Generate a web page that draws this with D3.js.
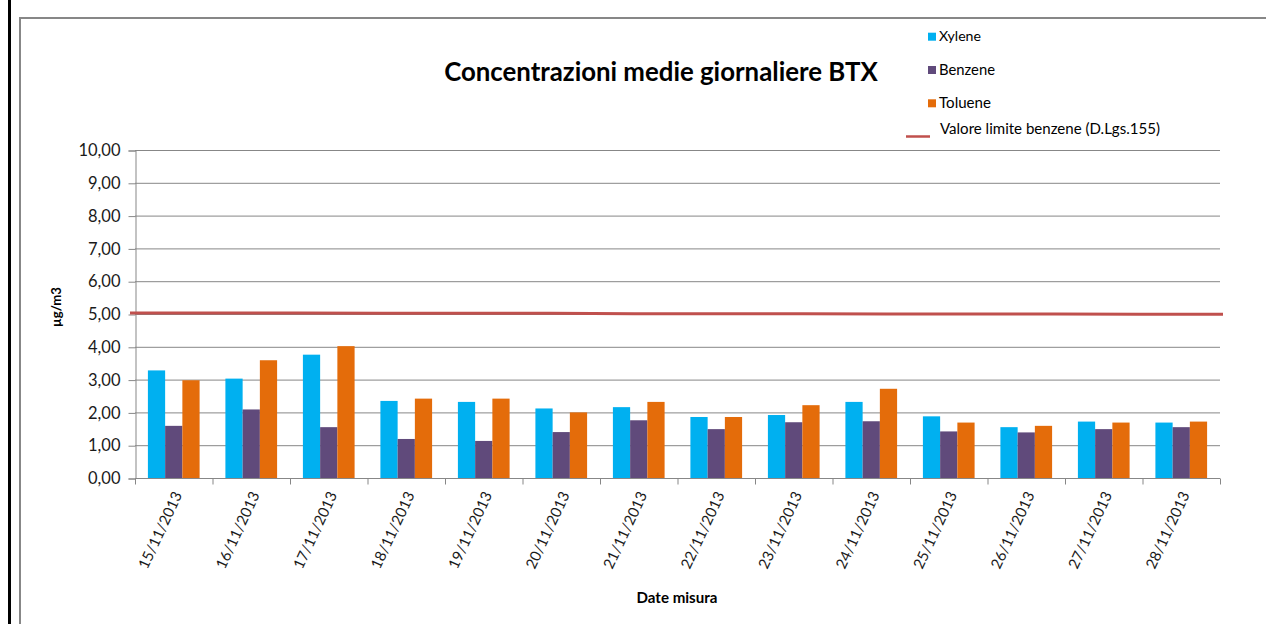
<!DOCTYPE html>
<html>
<head>
<meta charset="utf-8">
<script src="https://cdn.jsdelivr.net/npm/d3@7"></script>
<style>
  html, body { margin: 0; padding: 0; background: #fff; }
  svg { display: block; font-family: Lato, "Open Sans", sans-serif; }
</style>
</head>
<body>
<svg id="chart" width="1266" height="624"></svg>
<script>
const categories = ["15/11/2013","16/11/2013","17/11/2013","18/11/2013","19/11/2013","20/11/2013","21/11/2013","22/11/2013","23/11/2013","24/11/2013","25/11/2013","26/11/2013","27/11/2013","28/11/2013"];
const xylene  = [3.28, 3.03, 3.76, 2.35, 2.32, 2.12, 2.16, 1.86, 1.92, 2.32, 1.88, 1.55, 1.72, 1.69];
const benzene = [1.59, 2.09, 1.55, 1.19, 1.13, 1.40, 1.76, 1.49, 1.70, 1.73, 1.42, 1.39, 1.49, 1.55];
const toluene = [2.98, 3.59, 4.02, 2.42, 2.42, 2.00, 2.32, 1.86, 2.22, 2.72, 1.69, 1.59, 1.69, 1.72];
const limit   = [5.03, 5.03, 5.03, 5.02, 5.02, 5.02, 5.01, 5.01, 5.01, 5.00, 5.00, 5.00, 4.99, 4.99];
const seriesNames = ["Xylene", "Benzene", "Toluene"];
const limitName = "Valore limite benzene (D.Lgs.155)";
const yTicks = [0,1,2,3,4,5,6,7,8,9,10];
const title = "Concentrazioni medie giornaliere BTX";
const yTitle = "µg/m3";
const xTitle = "Date misura";

const colors = { Xylene: "#00b0f0", Benzene: "#604a7b", Toluene: "#e46c0a" };
const limitColor = "#c0504d";
const gridColor = "#878787";

const svg = d3.select("#chart");

function fitWidth(sel, target) {
  const fs = parseFloat(sel.style("font-size"));
  const w = sel.node().getComputedTextLength();
  sel.style("font-size", (fs * target / w).toFixed(2) + "px");
}

// outer frame
svg.append("rect").attr("x", 8).attr("y", 0).attr("width", 3).attr("height", 624).attr("fill", "#000");
svg.append("rect").attr("x", 20).attr("y", 18).attr("width", 1260).attr("height", 620)
  .attr("fill", "none").attr("stroke", "#878787").attr("stroke-width", 2);

const pLeft = 135, pRight = 1220, pTop = 150, pBottom = 478;

const x0 = d3.scaleBand().domain(categories).range([pLeft, pRight]).paddingInner(0.333).paddingOuter(0.1665);
const x1 = d3.scaleBand().domain(seriesNames).range([0, x0.bandwidth()]);
const y = d3.scaleLinear().domain([0, 10]).range([pBottom, pTop]);
const fmt = v => d3.format(".2f")(v).replace(".", ",");

// gridlines
svg.append("g").selectAll("line").data(yTicks.slice(1)).join("line")
  .attr("x1", pLeft).attr("x2", pRight)
  .attr("y1", d => y(d) + 0.5).attr("y2", d => y(d) + 0.5)
  .attr("stroke", gridColor).attr("stroke-width", 1);

// y axis
const yAxis = svg.append("g").attr("transform", `translate(${pLeft + 0.5},0.5)`)
  .call(d3.axisLeft(y).tickValues(yTicks).tickFormat(fmt).tickSize(7).tickPadding(8));
yAxis.select(".domain").attr("stroke", gridColor);
yAxis.selectAll(".tick line").attr("stroke", gridColor);
yAxis.selectAll(".tick text").attr("fill", "#1a1a1a").style("font-size", "16.5px")
  .style("font-family", "Lato, sans-serif");

// bars
const data = categories.map((c, i) => ({ c, vals: [
  { k: "Xylene", v: xylene[i] }, { k: "Benzene", v: benzene[i] }, { k: "Toluene", v: toluene[i] }] }));
const groups = svg.append("g").selectAll("g").data(data).join("g")
  .attr("transform", d => `translate(${x0(d.c)},0)`);
groups.selectAll("rect").data(d => d.vals).join("rect")
  .attr("x", d => x1(d.k)).attr("width", x1.bandwidth())
  .attr("y", d => y(d.v)).attr("height", d => y(0) - y(d.v))
  .attr("fill", d => colors[d.k]);

// x axis
const xAxisG = svg.append("g").attr("transform", `translate(0,${pBottom + 0.5})`);
xAxisG.append("line").attr("x1", pLeft).attr("x2", pRight).attr("stroke", gridColor);
const boundaries = categories.map(c => x0(c) - x0.step() * x0.paddingInner() / 2).concat([pRight]);
xAxisG.selectAll("line.tk").data(boundaries).join("line").attr("class", "tk")
  .attr("x1", d => d + 0.5).attr("x2", d => d + 0.5).attr("y1", 0).attr("y2", 6)
  .attr("stroke", gridColor);
xAxisG.selectAll("text").data(categories).join("text")
  .attr("transform", d => `translate(${x0(d) + x0.bandwidth() / 2 + 4},${14}) rotate(-65)`)
  .attr("text-anchor", "end").attr("dy", "0.35em")
  .style("font-size", "15px").attr("fill", "#1a1a1a")
  .text(d => d);

// limit line
const xp = d3.scalePoint().domain(categories).range([130, 1223]);
svg.append("path").datum(limit)
  .attr("d", d3.line().x((d, i) => xp(categories[i])).y(d => y(d)))
  .attr("fill", "none").attr("stroke", limitColor).attr("stroke-width", 3);

// title
const t = svg.append("text").attr("x", 661).attr("y", 81).attr("text-anchor", "middle")
  .style("font-size", "22px").style("font-weight", "bold").attr("fill", "#000").text(title);
fitWidth(t, 434);

// axis titles
const yt = svg.append("text").attr("transform", "translate(61,307) rotate(-90)").attr("text-anchor", "middle")
  .style("font-size", "14px").style("font-weight", "bold").attr("fill", "#000").text(yTitle);
fitWidth(yt, 40);
const xt = svg.append("text").attr("x", 677).attr("y", 603).attr("text-anchor", "middle")
  .style("font-size", "14px").style("font-weight", "bold").attr("fill", "#000").text(xTitle);
fitWidth(xt, 81);

// legend
const legY = [36.7, 70, 103.3];
const legW = [42, 56, 52];
seriesNames.forEach((n, i) => {
  svg.append("rect").attr("x", 928).attr("y", legY[i] - 4).attr("width", 8).attr("height", 8).attr("fill", colors[n]);
  const lt = svg.append("text").attr("x", 939).attr("y", legY[i] + 4.5).style("font-size", "14px").attr("fill", "#000").text(n);
  fitWidth(lt, legW[i]);
});
svg.append("line").attr("x1", 906).attr("x2", 930).attr("y1", 136.5).attr("y2", 136.5)
  .attr("stroke", limitColor).attr("stroke-width", 2.5);
const ll = svg.append("text").attr("x", 940).attr("y", 134).style("font-size", "14px").attr("fill", "#000").text(limitName);
fitWidth(ll, 220);
</script>
</body>
</html>
